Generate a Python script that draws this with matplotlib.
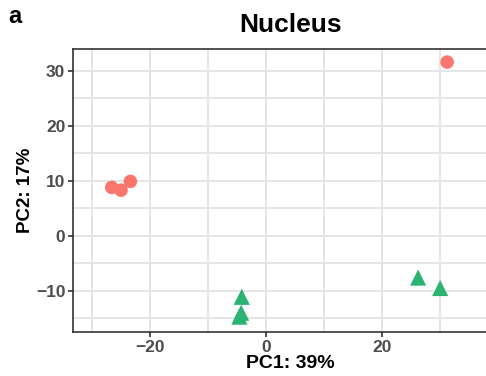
import matplotlib.pyplot as plt
from matplotlib.ticker import MultipleLocator

plt.rcParams['font.family'] = ['Liberation Sans', 'DejaVu Sans']

# PCA scores
grupo_a_pc1 = [31.2, -23.4, -25.0, -26.6]
grupo_a_pc2 = [31.6, 9.9, 8.3, 8.8]
grupo_b_pc1 = [-4.2, -4.3, -4.6, 26.2, 30.0]
grupo_b_pc2 = [-11.1, -14.0, -14.7, -7.6, -9.5]
ticks_x = [-20, 0, 20]

fig = plt.figure(figsize=(4.86, 3.76), dpi=100)
# the panel runs a bit past the right edge of the picture (cropped)
ax = fig.add_axes([0.150, 0.117, 0.893, 0.753])

ax.scatter(grupo_a_pc1, grupo_a_pc2, s=95, marker='o', color='#F8766D',
           edgecolors='none', zorder=3)
ax.scatter(grupo_b_pc1, grupo_b_pc2, s=135, marker='^', color='#2BB371',
           edgecolors='none', zorder=3)

ax.set_xlim(-33.3, 41.5)
ax.set_ylim(-17.5, 34)
ax.set_xticks(ticks_x)
ax.xaxis.set_minor_locator(MultipleLocator(10))
ax.yaxis.set_major_locator(MultipleLocator(10))
ax.yaxis.set_minor_locator(MultipleLocator(5))
ax.grid(True, which='both', color='#E5E5E5', linewidth=1.4, zorder=0)
ax.set_axisbelow(True)
ax.tick_params(which='minor', length=0)
ax.tick_params(which='major', length=3.5, width=1.2, color='#333333',
               labelsize=12.5, labelcolor='#4D4D4D', pad=2)
for lab in ax.get_xticklabels() + ax.get_yticklabels():
    lab.set_fontweight('bold')
for s in ['left', 'bottom', 'top', 'right']:
    ax.spines[s].set_color('#333333')
    ax.spines[s].set_linewidth(1.2)

ax.set_xlabel('PC1: 39%', fontsize=14, fontweight='bold', labelpad=0)
ax.set_ylabel('PC2: 17%', fontsize=13.5, fontweight='bold', labelpad=1)
fig.text(0.598, 0.934, 'Nucleus', ha='center', va='center', fontsize=19,
         fontweight='bold')
fig.text(0.016, 0.955, 'a', ha='left', va='center', fontsize=17,
         fontweight='bold')

fig.savefig('out.png', dpi=100)
